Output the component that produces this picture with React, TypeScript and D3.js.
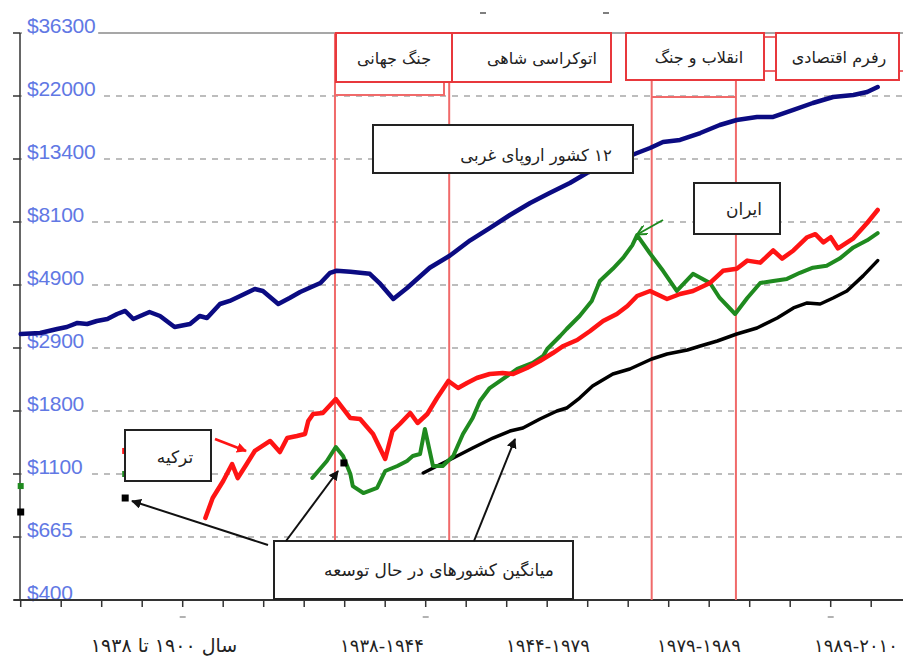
import React from "react";
import * as d3 from "d3";

// GDP per capita (log scale) tick values
const yTicks = [400, 665, 1100, 1800, 2900, 4900, 8100, 13400, 22000, 36300];
const xTickYears = d3.range(1900, 2006, 5);

// [year, value]
const westEurope: [number, number][] = [
  [1900.0, 3258], [1902.4, 3286], [1904.5, 3398], [1905.7, 3454], [1907.0, 3572], [1908.2, 3542],
  [1909.4, 3631], [1910.7, 3692], [1911.9, 3849], [1912.9, 3947], [1913.9, 3692], [1915.9, 3914],
  [1917.2, 3786], [1919.0, 3454], [1920.9, 3542], [1922.1, 3786], [1923.0, 3724], [1924.6, 4183],
  [1925.8, 4290], [1927.1, 4472], [1928.9, 4741], [1929.9, 4662], [1931.8, 4183], [1933.2, 4399],
  [1934.5, 4623], [1937.0, 4980], [1938.2, 5402], [1939.0, 5489], [1940.7, 5444], [1943.1, 5357],
  [1944.4, 4940], [1946.0, 4362], [1947.7, 4781], [1950.5, 5624], [1953.0, 6199], [1955.5, 7000],
  [1957.9, 7714], [1960.4, 8566], [1962.9, 9430], [1965.3, 10213], [1967.8, 11063], [1969.9, 11983],
  [1972.8, 12877], [1976.1, 14048], [1977.7, 14612], [1979.3, 15319], [1981.4, 15562], [1983.9, 16442],
  [1986.3, 17513], [1988.4, 18213], [1990.9, 18649], [1992.9, 18649], [1995.4, 19706], [1997.8, 20822],
  [2000.3, 21828], [2002.8, 22175], [2004.5, 22711], [2005.8, 23633],
];

const turkey: [number, number][] = [
  [1922.8, 774], [1923.7, 908], [1925.0, 1040], [1926.1, 1189], [1926.8, 1065], [1927.9, 1189],
  [1928.9, 1317], [1930.8, 1424], [1932.0, 1306], [1932.9, 1457], [1934.1, 1480], [1935.1, 1504],
  [1935.5, 1664], [1936.1, 1758], [1937.3, 1772], [1938.9, 1971], [1940.7, 1704], [1941.9, 1691],
  [1943.5, 1504], [1945.0, 1237], [1945.9, 1539], [1946.8, 1626], [1948.1, 1772], [1949.0, 1639],
  [1950.2, 1758], [1951.4, 1986], [1952.8, 2259], [1954.0, 2142], [1955.1, 2225], [1956.3, 2311],
  [1957.9, 2382], [1959.5, 2400], [1960.8, 2382], [1962.5, 2493], [1964.1, 2628], [1965.7, 2792],
  [1967.0, 2949], [1968.7, 3100], [1970.3, 3341], [1971.9, 3631], [1973.6, 3849], [1974.9, 4115],
  [1976.1, 4472], [1977.7, 4662], [1979.8, 4361], [1981.4, 4547], [1983.0, 4662], [1985.1, 4980],
  [1986.7, 5489], [1988.4, 5577], [1989.7, 5953], [1991.3, 5857], [1992.9, 6454], [1994.0, 6050],
  [1995.4, 6454], [1997.1, 7173], [1998.1, 7350], [1999.1, 6888], [2000.0, 7173], [2000.9, 6560],
  [2002.8, 7114], [2004.5, 8035], [2005.8, 8915],
];

const iran: [number, number][] = [
  [1936.0, 1066], [1937.8, 1218], [1938.9, 1358], [1939.8, 1266], [1940.7, 1100], [1941.0, 999],
  [1942.3, 945], [1944.0, 984], [1945.0, 1126], [1946.5, 1171], [1947.7, 1218], [1948.4, 1266],
  [1949.3, 1286], [1949.9, 1564], [1950.9, 1171], [1952.1, 1171], [1953.4, 1266], [1954.6, 1504],
  [1955.8, 1704], [1956.7, 1941], [1957.9, 2142], [1959.5, 2293], [1961.3, 2474], [1963.2, 2589],
  [1964.5, 2730], [1965.0, 2878], [1966.6, 3205], [1967.4, 3397], [1969.0, 3786], [1970.5, 4290],
  [1971.5, 5061], [1973.1, 5577], [1974.4, 6099], [1975.5, 6722], [1976.1, 7290], [1977.7, 6300],
  [1979.3, 5489], [1981.0, 4662], [1983.0, 5357], [1985.1, 4980], [1986.3, 4398], [1988.2, 3849],
  [1989.7, 4398], [1991.3, 4980], [1992.9, 5061], [1994.6, 5144], [1996.2, 5401], [1997.8, 5624],
  [1999.5, 5716], [2001.1, 6050], [2002.8, 6614], [2004.5, 6999], [2005.8, 7408],
];

const developing: [number, number][] = [
  [1949.7, 1109], [1951.4, 1171], [1953.4, 1247], [1955.8, 1348], [1958.3, 1457], [1960.4, 1539],
  [1962.0, 1576], [1964.1, 1691], [1966.2, 1800], [1967.4, 1841], [1969.0, 1986], [1970.6, 2175],
  [1973.1, 2382], [1975.2, 2474], [1977.9, 2668], [1979.8, 2771], [1982.3, 2856], [1983.9, 2949],
  [1986.0, 3074], [1988.4, 3259], [1990.9, 3426], [1993.4, 3723], [1995.4, 4047], [1997.1, 4219],
  [1998.7, 4184], [2000.3, 4398], [2002.0, 4662], [2004.0, 5270], [2005.8, 5953],
];

// isolated benchmark points: [series, year, value]
const singlePoints: [string, number, number][] = [
  ["iran", 1900, 999], ["developing", 1900, 812],
  ["turkey", 1912.9, 1317], ["iran", 1912.9, 1100], ["developing", 1912.9, 908],
  ["developing", 1939.9, 1199],
];

const periodYears = [1938.8, 1952.9, 1977.9, 1988.3];
const periodLabels = ["جنگ جهانی", "اتوکراسی شاهی", "انقلاب و جنگ", "رفرم اقتصادی"];
const bottomLabels = ["سال ۱۹۰۰ تا ۱۹۳۸", "۱۹۳۸-۱۹۴۴", "۱۹۴۴-۱۹۷۹", "۱۹۷۹-۱۹۸۹", "۱۹۸۹-۲۰۱۰"];
const westLabel = "۱۲ کشور اروپای غربی";
const iranLabel = "ایران";
const turkeyLabel = "ترکیه";
const developingLabel = "میانگین کشورهای در حال توسعه";

const colors: Record<string, string> = {
  west: "#0b0b82",
  turkey: "#ff1414",
  iran: "#1f8a1f",
  developing: "#000000",
};

const FA = "'DejaVu Sans', sans-serif";

export default function App() {
  const width = 903;
  const height = 658;
  const top = 33;
  const bottom = 600;
  const left = 20;
  const step = (bottom - top) / (yTicks.length - 1);

  const x = d3.scaleLinear().domain([1900, 2005]).range([20.7, 871.2]);
  const y = d3.scaleLog().domain(yTicks).range(yTicks.map((_, i) => bottom - i * step));
  const line = d3.line<[number, number]>().x((d) => x(d[0])).y((d) => y(d[1]));

  const series = [
    { key: "developing", data: developing, w: 3.5 },
    { key: "iran", data: iran, w: 4 },
    { key: "turkey", data: turkey, w: 4.5 },
    { key: "west", data: westEurope, w: 4.5 },
  ];

  const boxRed = "#e8383c";
  const lineRed = "#f06a6a";

  // annotation layout (pixels)
  const periodBoxes = [
    { x0: 336, x1: 452, y0: 33, y1: 82, tx: 394 },
    { x0: 452, x1: 611, y0: 33, y1: 82, tx: 542 },
    { x0: 626, x1: 764, y0: 33, y1: 80, tx: 699 },
    { x0: 776, x1: 899, y0: 33, y1: 80, tx: 839 },
  ];
  const bottomLabelX = [164, 382, 548, 699, 856];

  return (
    <svg width={width} height={height} style={{ position: "absolute", left: 0, top: 0, background: "#fff" }}>
      <defs>
        <marker id="ah-black" viewBox="0 0 10 10" refX="9" refY="5" markerWidth="5" markerHeight="5" orient="auto">
          <path d="M0,0L10,5L0,10z" fill="#111" />
        </marker>
        <marker id="ah-red" viewBox="0 0 10 10" refX="9" refY="5" markerWidth="4" markerHeight="4" orient="auto">
          <path d="M0,0L10,5L0,10z" fill={colors.turkey} />
        </marker>
        <marker id="ah-green" viewBox="0 0 10 10" refX="9" refY="5" markerWidth="5" markerHeight="5" orient="auto">
          <path d="M0,0L10,5L0,10" fill="none" stroke={colors.iran} strokeWidth="2" />
        </marker>
      </defs>

      {/* gridlines */}
      {yTicks.slice(1).map((t, i) => (
        <line
          key={t}
          x1={left}
          x2={width}
          y1={y(t)}
          y2={y(t)}
          stroke={i === yTicks.length - 2 ? "#8a8a8a" : "#a8a8a8"}
          strokeWidth={1.5}
          strokeDasharray={i === yTicks.length - 2 ? undefined : "6 6"}
        />
      ))}

      {/* y labels */}
      {yTicks.map((t) => {
        const label = "$" + t;
        return (
          <g key={t}>
            <rect x={left + 2} y={y(t) - 2} width={label.length * 11.7 + 6} height={4} fill="#fff" />
            <text
              x={27}
              y={y(t)}
              fill="#6178e4"
              fontFamily="'Liberation Sans', Arial, sans-serif"
              fontSize={21}
              letterSpacing={-0.3}
            >
              {label}
            </text>
          </g>
        );
      })}

      {/* axes */}
      <line x1={left} x2={left} y1={top} y2={bottom} stroke="#333" strokeWidth={1.5} />
      {yTicks.map((t) => (
        <line key={t} x1={13} x2={left} y1={y(t)} y2={y(t)} stroke="#333" strokeWidth={1.5} />
      ))}
      <line x1={14} x2={width} y1={bottom} y2={bottom} stroke="#333" strokeWidth={2} />
      {xTickYears.map((yr) => (
        <line key={yr} x1={x(yr)} x2={x(yr)} y1={bottom} y2={bottom + 7} stroke="#333" strokeWidth={1.5} />
      ))}
      {[1920, 1950, 2000].map((yr) => (
        <line key={yr} x1={x(yr) - 3} x2={x(yr) + 3} y1={617} y2={617} stroke="#999" strokeWidth={1.5} />
      ))}
      <line x1={480} x2={486} y1={13} y2={13} stroke="#555" strokeWidth={1.5} />
      <line x1={603} x2={609} y1={13} y2={13} stroke="#555" strokeWidth={1.5} />

      {/* period lines */}
      <line x1={x(periodYears[0])} x2={x(periodYears[0])} y1={top} y2={bottom} stroke={lineRed} strokeWidth={2} />
      <line x1={x(periodYears[1])} x2={x(periodYears[1])} y1={82} y2={bottom} stroke={lineRed} strokeWidth={2} />
      <line x1={x(periodYears[2])} x2={x(periodYears[2])} y1={80} y2={bottom} stroke={lineRed} strokeWidth={2} />
      <line x1={x(periodYears[3])} x2={x(periodYears[3])} y1={80} y2={bottom} stroke={lineRed} strokeWidth={2} />
      <polyline points={`${x(periodYears[0])},95 444,95 444,82`} fill="none" stroke={lineRed} strokeWidth={2} />
      <line x1={x(periodYears[2])} x2={x(periodYears[3])} y1={97} y2={97} stroke={lineRed} strokeWidth={2} />

      {/* series */}
      {series.map((s) => (
        <path
          key={s.key}
          d={line(s.data) || ""}
          fill="none"
          stroke={colors[s.key]}
          strokeWidth={s.w}
          strokeLinejoin="round"
          strokeLinecap="round"
        />
      ))}

      {/* single points */}
      {singlePoints.map(([k, yr, v], i) => {
        const s = k === "developing" ? 7 : 6;
        return (
          <rect key={i} x={x(yr) - s / 2} y={y(v) - s / 2} width={s} height={s} fill={colors[k]} />
        );
      })}

      {/* period boxes */}
      <line x1={764} x2={776} y1={37} y2={37} stroke={boxRed} strokeWidth={1.5} />
      <line x1={764} x2={776} y1={71} y2={71} stroke={boxRed} strokeWidth={1.5} />
      <line x1={899} x2={903} y1={71} y2={71} stroke={boxRed} strokeWidth={1.5} />
      {periodBoxes.map((b, i) => (
        <g key={i}>
          <rect x={b.x0} y={b.y0} width={b.x1 - b.x0} height={b.y1 - b.y0} fill="#fff" stroke={boxRed} strokeWidth={2} />
          <text x={b.tx} y={(b.y0 + b.y1) / 2 + 6} textAnchor="middle" direction="rtl" fontFamily={FA} fontSize={16} fill="#222">
            {periodLabels[i]}
          </text>
        </g>
      ))}

      {/* callout boxes */}
      <rect x={373} y={125} width={260} height={48} fill="#fff" stroke="#222" strokeWidth={2} />
      <text x={536} y={161} textAnchor="middle" direction="rtl" fontFamily={FA} fontSize={16.5} fill="#222">
        {westLabel}
      </text>

      <rect x={694} y={183} width={86} height={51} fill="#fff" stroke="#222" strokeWidth={2} />
      <text x={744} y={215} textAnchor="middle" direction="rtl" fontFamily={FA} fontSize={17} fill="#222">
        {iranLabel}
      </text>

      <rect x={125} y={430} width={86} height={51} fill="#fff" stroke="#222" strokeWidth={2} />
      <text x={175} y={463} textAnchor="middle" direction="rtl" fontFamily={FA} fontSize={17} fill="#222">
        {turkeyLabel}
      </text>

      <rect x={274} y={541} width={299} height={58} fill="#fff" stroke="#222" strokeWidth={2} />
      <text x={439} y={576} textAnchor="middle" direction="rtl" fontFamily={FA} fontSize={17} fill="#222">
        {developingLabel}
      </text>

      {/* arrows */}
      <line x1={268} y1={545} x2={132} y2={501} stroke="#111" strokeWidth={2} markerEnd="url(#ah-black)" />
      <line x1={286} y1={541} x2={338} y2={471} stroke="#111" strokeWidth={2} markerEnd="url(#ah-black)" />
      <line x1={474} y1={541} x2={515} y2={439} stroke="#111" strokeWidth={2} markerEnd="url(#ah-black)" />
      <line x1={215} y1={439} x2={246} y2={451} stroke={colors.turkey} strokeWidth={2.5} markerEnd="url(#ah-red)" />
      <line x1={663} y1={220} x2={638} y2={234} stroke={colors.iran} strokeWidth={2} markerEnd="url(#ah-green)" />

      {/* bottom category labels */}
      {bottomLabels.map((l, i) => (
        <text
          key={i}
          x={bottomLabelX[i]}
          y={652}
          textAnchor="middle"
          direction={i === 0 ? "rtl" : "ltr"}
          fontFamily={FA}
          fontSize={i === 0 ? 19 : 18}
          letterSpacing={i === 0 ? 0 : 1}
          fill="#222"
        >
          {l}
        </text>
      ))}
    </svg>
  );
}
